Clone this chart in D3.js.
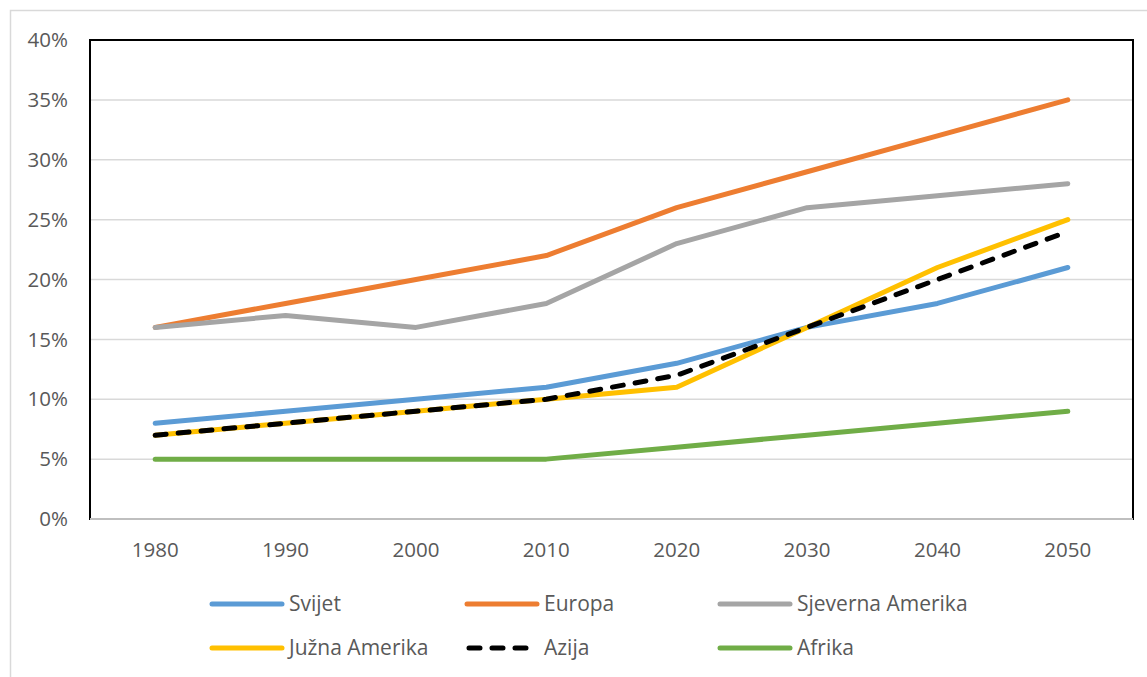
<!DOCTYPE html>
<html>
<head>
<meta charset="utf-8">
<script src="https://cdn.jsdelivr.net/npm/d3@7"></script>
<style>
  body { margin: 0; background: #fff; }
  text { font-family: "Open Sans", "Noto Sans", sans-serif; fill: #595959; }
</style>
</head>
<body>
<svg id="chart" width="1147" height="677"></svg>
<script>
const years = ["1980", "1990", "2000", "2010", "2020", "2030", "2040", "2050"];
const svijet = [8, 9, 10, 11, 13, 16, 18, 21];
const europa = [16, 18, 20, 22, 26, 29, 32, 35];
const sjevernaAmerika = [16, 17, 16, 18, 23, 26, 27, 28];
const juznaAmerika = [7, 8, 9, 10, 11, 16, 21, 25];
const azija = [7, 8, 9, 10, 12, 16, 20, 24];
const afrika = [5, 5, 5, 5, 6, 7, 8, 9];
const yTicks = [0, 5, 10, 15, 20, 25, 30, 35, 40];

const series = [
  { name: "Svijet", values: svijet, color: "#5B9BD5" },
  { name: "Europa", values: europa, color: "#ED7D31" },
  { name: "Sjeverna Amerika", values: sjevernaAmerika, color: "#A5A5A5" },
  { name: "Južna Amerika", values: juznaAmerika, color: "#FFC000" },
  { name: "Azija", values: azija, color: "#000000", dash: true },
  { name: "Afrika", values: afrika, color: "#70AD47" }
];

const svg = d3.select("#chart");
const plotLeft = 90, plotRight = 1133, plotTop = 40, plotBottom = 519;

// outer chart frame
svg.append("rect").attr("x", 10.5).attr("y", 10.5).attr("width", 1160).attr("height", 700)
  .attr("fill", "none").attr("stroke", "#d9d9d9").attr("stroke-width", 1.5);

const x = d3.scaleBand().domain(years).range([plotLeft, plotRight]);
const y = d3.scaleLinear().domain([0, 40]).range([plotBottom, plotTop]);

// gridlines
svg.append("g").selectAll("line").data(yTicks.slice(1)).enter().append("line")
  .attr("x1", plotLeft).attr("x2", plotRight)
  .attr("y1", d => y(d)).attr("y2", d => y(d))
  .attr("stroke", "#d9d9d9").attr("stroke-width", 1.5);

// plot frame
svg.append("rect").attr("x", plotLeft).attr("y", plotTop)
  .attr("width", plotRight - plotLeft).attr("height", plotBottom - plotTop)
  .attr("fill", "none").attr("stroke", "#000").attr("stroke-width", 2);

// x axis line
svg.append("line").attr("x1", plotLeft).attr("x2", plotRight).attr("y1", plotBottom).attr("y2", plotBottom)
  .attr("stroke", "#bfbfbf").attr("stroke-width", 2);

// y labels
svg.append("g").selectAll("text").data(yTicks).enter().append("text")
  .attr("x", 68).attr("y", d => y(d)).attr("dy", "0.35em")
  .attr("text-anchor", "end").attr("font-size", 20.5)
  .text(d => d + "%");

// x labels
svg.append("g").selectAll("text").data(years).enter().append("text")
  .attr("x", d => x(d) + x.bandwidth() / 2).attr("y", 550).attr("dy", "0.35em")
  .attr("text-anchor", "middle").attr("font-size", 20.5)
  .text(d => d);

const line = d3.line()
  .x((d, i) => x(years[i]) + x.bandwidth() / 2)
  .y(d => y(d));

series.forEach(s => {
  const p = svg.append("path").datum(s.values)
    .attr("d", line)
    .attr("fill", "none")
    .attr("stroke", s.color)
    .attr("stroke-width", 5)
    .attr("stroke-linejoin", "round")
    .attr("stroke-linecap", "round");
  if (s.dash) p.attr("stroke-dasharray", "11,12");
});

// legend
const legendPos = [
  [212, 604], [467, 604], [720, 604],
  [212, 648], [467, 648], [720, 648]
];
series.forEach((s, i) => {
  const [lx, ly] = legendPos[i];
  const l = svg.append("line").attr("x1", lx).attr("x2", lx + 70).attr("y1", ly).attr("y2", ly)
    .attr("stroke", s.color).attr("stroke-width", 5).attr("stroke-linecap", "round");
  if (s.dash) l.attr("stroke-dasharray", "11,12").attr("x1", lx + 2);
  svg.append("text").attr("x", lx + 77).attr("y", ly).attr("dy", "0.35em")
    .attr("font-size", 21).text(s.name);
});
</script>
</body>
</html>
